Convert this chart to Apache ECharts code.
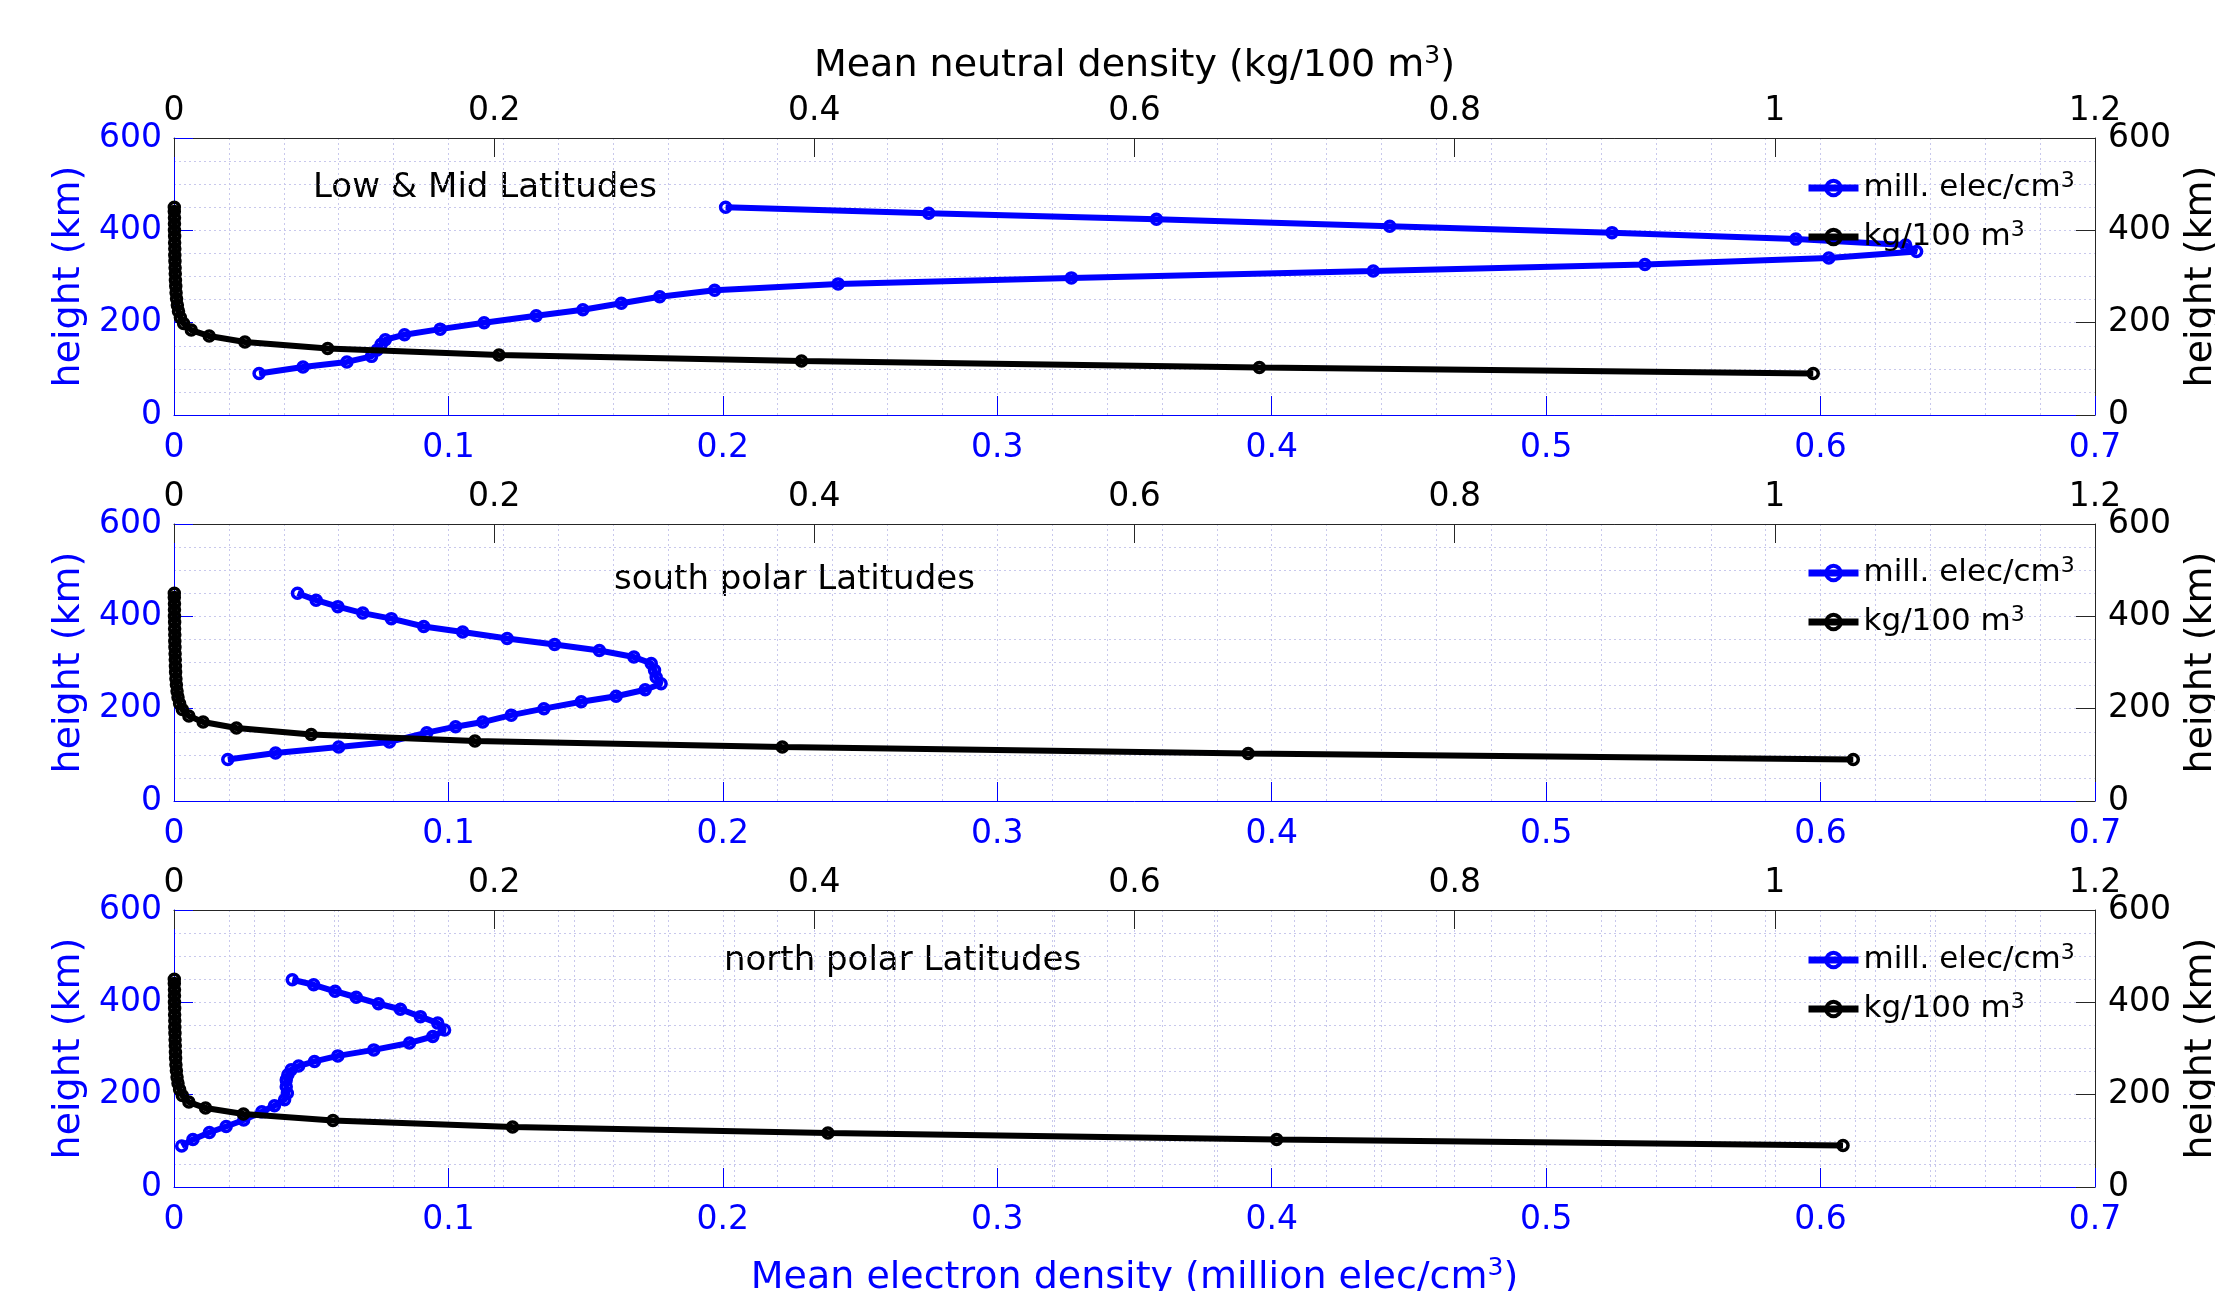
<!DOCTYPE html>
<html>
<head>
<meta charset="utf-8">
<title>Mean electron and neutral density profiles</title>
<script src="https://cdn.jsdelivr.net/npm/echarts@6/dist/echarts.min.js"></script>
<style>
  html, body { margin: 0; padding: 0; background: #fff; }
  #density_chart { width: 2215px; height: 1291px; }
</style>
</head>
<body>
<div id="density_chart"></div>
<script>
// electron density (million elec/cm3) against height (km), one pair of lists per panel
const lowMidHeights = [90, 104, 115, 127, 141, 153, 163, 174, 186, 200, 215, 228, 242, 256, 270, 284, 297, 312, 326, 340, 354, 368, 381, 395, 409, 424, 437, 450];
const lowMidElectron = [0.031, 0.047, 0.063, 0.072, 0.074, 0.0755, 0.077, 0.084, 0.097, 0.113, 0.132, 0.149, 0.163, 0.177, 0.197, 0.242, 0.327, 0.437, 0.536, 0.603, 0.635, 0.631, 0.591, 0.524, 0.443, 0.358, 0.275, 0.201];

const southHeights = [90, 104, 117, 128, 148, 161, 171, 186, 200, 215, 227, 241, 254, 268, 283, 298, 312, 326, 339, 352, 366, 378, 395, 407, 421, 435, 450];
const southElectron = [0.0196, 0.037, 0.060, 0.0785, 0.0921, 0.1026, 0.1125, 0.1229, 0.1348, 0.1484, 0.1611, 0.1717, 0.1775, 0.1757, 0.1751, 0.1739, 0.1676, 0.155, 0.1387, 0.1214, 0.1052, 0.091, 0.0792, 0.0688, 0.0597, 0.0518, 0.045];

const northHeights = [89, 103, 118, 131, 145, 163, 176, 189, 203, 217, 232, 243, 254, 262, 272, 284, 297, 312, 326, 340, 355, 369, 385, 397, 411, 424, 438, 449];
const northElectron = [0.0028, 0.0069, 0.0129, 0.019, 0.0254, 0.032, 0.0366, 0.0403, 0.0413, 0.0409, 0.0409, 0.0415, 0.0427, 0.0454, 0.0512, 0.0597, 0.0728, 0.0858, 0.0943, 0.0986, 0.0961, 0.0898, 0.0825, 0.0745, 0.0664, 0.0587, 0.0509, 0.0431];

// neutral density (kg/100 m3), same height grid in every panel
const neutralHeights = [90, 103, 117, 130, 144, 158, 171, 184, 198, 211, 225, 238, 252, 265, 279, 292, 306, 319, 333, 346, 360, 373, 387, 400, 414, 427, 441, 450];
const lowMidNeutral = [1.024, 0.678, 0.392, 0.203, 0.096, 0.0443, 0.022, 0.0108, 0.0060, 0.0040, 0.0028, 0.0021, 0.0016, 0.0013, 0.0011, 0.0009, 0.0008, 0.0007, 0.0006, 0.0005, 0.0005, 0.0004, 0.0004, 0.0003, 0.0003, 0.0003, 0.0002, 0.0002];
const southNeutral = [1.049, 0.671, 0.380, 0.188, 0.0857, 0.039, 0.0182, 0.0093, 0.0052, 0.0035, 0.0025, 0.0019, 0.0015, 0.0012, 0.0010, 0.0009, 0.0008, 0.0007, 0.0006, 0.0005, 0.0005, 0.0004, 0.0004, 0.0003, 0.0003, 0.0003, 0.0002, 0.0002];
const northNeutral = [1.0426, 0.6888, 0.4085, 0.2115, 0.0993, 0.0434, 0.0197, 0.0093, 0.0052, 0.0035, 0.0025, 0.0019, 0.0015, 0.0012, 0.0010, 0.0009, 0.0008, 0.0007, 0.0006, 0.0005, 0.0005, 0.0004, 0.0004, 0.0003, 0.0003, 0.0003, 0.0002, 0.0002];

// tick labels
const electronTicks = [0, 0.1, 0.2, 0.3, 0.4, 0.5, 0.6, 0.7];
const neutralTicks = [0, 0.2, 0.4, 0.6, 0.8, 1, 1.2];
const heightTicks = [0, 200, 400, 600];

const panelTitles = ['Low & Mid Latitudes', 'south polar Latitudes', 'north polar Latitudes'];
const electronName = 'mill. elec/cm3';
const neutralName = 'kg/100 m3';

const panels = [
  { heights: lowMidHeights, electron: lowMidElectron, neutral: lowMidNeutral },
  { heights: southHeights, electron: southElectron, neutral: southNeutral },
  { heights: northHeights, electron: northElectron, neutral: northNeutral }
];

// layout (pixels)
const panelTops = [138, 524, 910];
const panelHeight = 277;
const titlePos = [[313, 188], [614, 580], [724, 961]];
const legendTops = [170, 555, 942];

const FONT = 'DejaVu Sans';
const BLUE = '#0000ff';
const INK = '#262626';
const gridLine = { color: '#c8c8ec', width: 1, type: [2, 3] };
const supStyle = { fontSize: 22, lineHeight: 20, verticalAlign: 'top', fontFamily: FONT };
const nameSup = { fontSize: 25, lineHeight: 22, verticalAlign: 'top', fontFamily: FONT };

const chart = echarts.init(document.getElementById('density_chart'));

const grids = [];
const xAxes = [];
const yAxes = [];
const series = [];
const legends = [];

panels.forEach((p, i) => {
  grids.push({
    left: 174, right: 120, top: panelTops[i], height: panelHeight,
    containLabel: false, outerBoundsMode: 'none'
  });

  // bottom axis: electron density
  xAxes.push({
    gridIndex: i, type: 'value', position: 'bottom',
    min: electronTicks[0], max: electronTicks[electronTicks.length - 1],
    interval: electronTicks[1] - electronTicks[0],
    name: i === 2 ? 'Mean electron density (million elec/cm{sup|3})' : '',
    nameLocation: 'middle', nameGap: 69,
    nameTextStyle: { color: BLUE, fontSize: 38, fontFamily: FONT, lineHeight: 44, rich: { sup: nameSup } },
    axisLine: { show: true, onZero: false, lineStyle: { color: BLUE, width: 1 } },
    axisTick: { show: true, inside: true, length: 19, lineStyle: { color: BLUE } },
    axisLabel: { color: BLUE, fontSize: 33, fontFamily: FONT, margin: 17 },
    splitLine: { show: true, lineStyle: gridLine },
    minorTick: { show: false, splitNumber: 5 },
    minorSplitLine: { show: true, lineStyle: gridLine }
  });

  // top axis: neutral density
  xAxes.push({
    gridIndex: i, type: 'value', position: 'top',
    min: neutralTicks[0], max: neutralTicks[neutralTicks.length - 1],
    interval: neutralTicks[1] - neutralTicks[0],
    name: i === 0 ? 'Mean neutral density (kg/100 m{sup|3})' : '',
    nameLocation: 'middle', nameGap: 50,
    nameTextStyle: { color: '#000', fontSize: 38, fontFamily: FONT, lineHeight: 44, rich: { sup: nameSup } },
    axisLine: { show: true, onZero: false, lineStyle: { color: INK, width: 1 } },
    axisTick: { show: true, inside: true, length: 19, lineStyle: { color: INK } },
    axisLabel: { color: '#000', fontSize: 33, fontFamily: FONT, margin: 10 },
    splitLine: { show: i === 2, lineStyle: gridLine },
    minorTick: { show: false, splitNumber: 4 },
    minorSplitLine: { show: i === 2, lineStyle: gridLine }
  });

  yAxes.push({
    gridIndex: i, type: 'value', position: 'left',
    min: heightTicks[0], max: heightTicks[heightTicks.length - 1],
    interval: heightTicks[1] - heightTicks[0],
    name: 'height (km)', nameLocation: 'middle', nameGap: 82,
    nameTextStyle: { color: BLUE, fontSize: 38, fontFamily: FONT },
    axisLine: { show: true, onZero: false, lineStyle: { color: BLUE, width: 1 } },
    axisTick: { show: true, inside: true, length: 19, lineStyle: { color: BLUE } },
    axisLabel: { color: BLUE, fontSize: 33, fontFamily: FONT, margin: 12 },
    splitLine: { show: true, lineStyle: gridLine },
    minorTick: { show: false, splitNumber: 4 },
    minorSplitLine: { show: true, lineStyle: gridLine }
  });

  yAxes.push({
    gridIndex: i, type: 'value', position: 'right',
    min: heightTicks[0], max: heightTicks[heightTicks.length - 1],
    interval: heightTicks[1] - heightTicks[0],
    name: 'height (km)', nameLocation: 'middle', nameGap: 84,
    nameTextStyle: { color: '#000', fontSize: 38, fontFamily: FONT },
    axisLine: { show: true, onZero: false, lineStyle: { color: INK, width: 1 } },
    axisTick: { show: true, inside: true, length: 19, lineStyle: { color: INK } },
    axisLabel: { color: '#000', fontSize: 33, fontFamily: FONT, margin: 13 },
    splitLine: { show: false }
  });

  series.push({
    name: electronName, type: 'line',
    xAxisIndex: 2 * i, yAxisIndex: 2 * i,
    data: p.electron.map((v, k) => [v, p.heights[k]]),
    symbol: 'circle', symbolSize: 10,
    lineStyle: { color: BLUE, width: 6 },
    itemStyle: { color: 'rgba(255,255,255,0)', borderColor: BLUE, borderWidth: 3.5 },
    z: 3
  });

  series.push({
    name: neutralName, type: 'line',
    xAxisIndex: 2 * i + 1, yAxisIndex: 2 * i,
    data: p.neutral.map((v, k) => [v, neutralHeights[k]]),
    symbol: 'circle', symbolSize: 10,
    lineStyle: { color: '#000', width: 6 },
    itemStyle: { color: 'rgba(255,255,255,0)', borderColor: '#000', borderWidth: 3.5 },
    z: 4
  });

  legends.push({
    data: [electronName, neutralName],
    orient: 'vertical', left: 1805, top: legendTops[i],
    itemWidth: 50, itemHeight: 18, itemGap: 13, padding: 0,
    selectedMode: false,
    lineStyle: { width: 7 },
    itemStyle: { borderWidth: 4 },
    formatter: name => name.replace(/3$/, '{sup|3}'),
    textStyle: {
      color: '#000', fontSize: 31, fontFamily: FONT, lineHeight: 36,
      rich: { sup: supStyle }
    }
  });
});

const option = {
  animation: false,
  backgroundColor: '#fff',
  grid: grids,
  xAxis: xAxes,
  yAxis: yAxes,
  legend: legends,
  series: series,
  graphic: panelTitles.map((t, i) => ({
    type: 'text',
    x: titlePos[i][0],
    y: titlePos[i][1],
    style: {
      text: t, fill: '#000', fontSize: 34, fontFamily: FONT,
      verticalAlign: 'middle', align: 'left'
    }
  }))
};

chart.setOption(option);
</script>
</body>
</html>
